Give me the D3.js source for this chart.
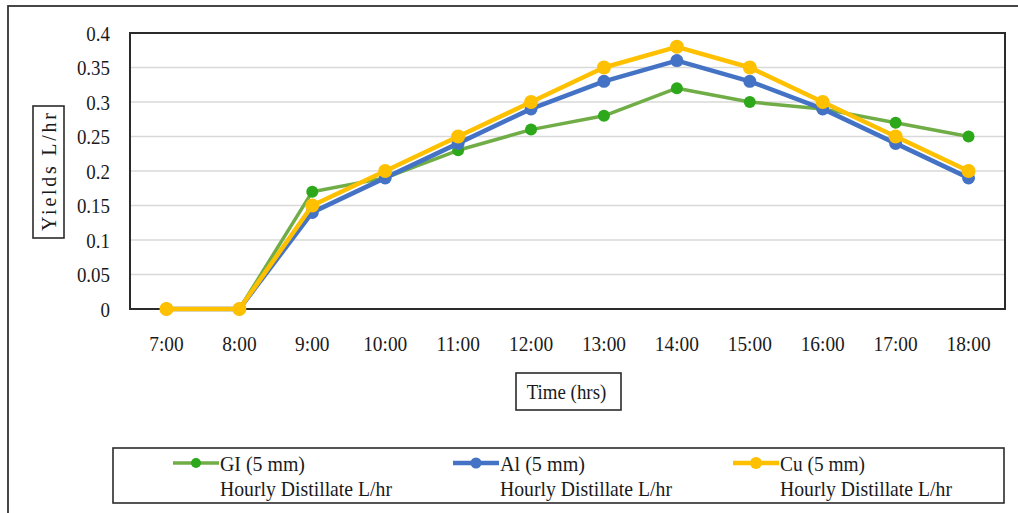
<!DOCTYPE html>
<html>
<head>
<meta charset="utf-8">
<script src="https://cdn.jsdelivr.net/npm/d3@7"></script>
<style>
  html, body { margin: 0; padding: 0; background: #fff; }
  svg { display: block; }
  text { font-family: "Liberation Serif", "Times New Roman", serif; fill: #1a1a1a; }
</style>
</head>
<body>
<svg id="chart" width="1018" height="513"></svg>
<script>
// Hourly distillate yield (L/hr) per absorber material
const hours = ["7:00", "8:00", "9:00", "10:00", "11:00", "12:00", "13:00", "14:00", "15:00", "16:00", "17:00", "18:00"];
const giYield = [0, 0, 0.17, 0.19, 0.23, 0.26, 0.28, 0.32, 0.30, 0.29, 0.27, 0.25];
const alYield = [0, 0, 0.14, 0.19, 0.24, 0.29, 0.33, 0.36, 0.33, 0.29, 0.24, 0.19];
const cuYield = [0, 0, 0.15, 0.20, 0.25, 0.30, 0.35, 0.38, 0.35, 0.30, 0.25, 0.20];
const yTicks = [0, 0.05, 0.1, 0.15, 0.2, 0.25, 0.3, 0.35, 0.4];
const seriesNames = ["GI (5 mm)", "Al (5 mm)", "Cu (5 mm)"];
const seriesSub = "Hourly Distillate  L/hr";

const series = [
  { name: seriesNames[0], values: giYield, line: "#70ad47", dot: "#2ca81a", width: 3.5, r: 6 },
  { name: seriesNames[1], values: alYield, line: "#4472c4", dot: "#4472c4", width: 4.5, r: 6.5 },
  { name: seriesNames[2], values: cuYield, line: "#ffc000", dot: "#ffc000", width: 4.5, r: 7 }
];

const svg = d3.select("#chart");
const plot = { left: 130, top: 33, right: 1005, bottom: 309 };

// squeeze text horizontally, like a condensed serif face
function condense(sel, k) {
  sel.each(function () {
    const w = this.getComputedTextLength();
    d3.select(this).attr("textLength", w * k).attr("lengthAdjust", "spacingAndGlyphs");
  });
}

// outer chart frame (runs past the right and bottom edges)
svg.append("rect")
  .attr("x", 8).attr("y", 6).attr("width", 1030).attr("height", 530)
  .attr("fill", "none").attr("stroke", "#333").attr("stroke-width", 1.8);

const x = d3.scaleBand().domain(hours).range([plot.left, plot.right]);
const y = d3.scaleLinear().domain([0, 0.4]).range([plot.bottom, plot.top]);

// horizontal gridlines
svg.append("g")
  .selectAll("line")
  .data(yTicks.filter(d => d > 0 && d < 0.4))
  .join("line")
  .attr("x1", plot.left).attr("x2", plot.right)
  .attr("y1", d => y(d)).attr("y2", d => y(d))
  .attr("stroke", "#d9d9d9").attr("stroke-width", 1.5);

// y axis tick labels
const yAxis = d3.axisLeft(y).tickValues(yTicks).tickSize(0).tickPadding(20)
  .tickFormat(d => d3.format("")(+d.toFixed(2)));
const gy = svg.append("g").attr("transform", `translate(${plot.left},0)`).call(yAxis);
gy.select(".domain").remove();
gy.selectAll("text").style("font-size", "22px").style("font-family", "Liberation Serif, serif")
  .attr("fill", "#1a1a1a").attr("dy", "0.33em").call(condense, 0.86);

// x axis tick labels
const xAxis = d3.axisBottom(x).tickSize(0).tickPadding(26);
const gx = svg.append("g").attr("transform", `translate(0,${plot.bottom})`).call(xAxis);
gx.select(".domain").remove();
gx.selectAll("text").style("font-size", "22px").style("font-family", "Liberation Serif, serif")
  .attr("fill", "#1a1a1a").call(condense, 0.88);

// plot area border
svg.append("rect")
  .attr("x", plot.left).attr("y", plot.top)
  .attr("width", plot.right - plot.left).attr("height", plot.bottom - plot.top)
  .attr("fill", "none").attr("stroke", "#2b2b2b").attr("stroke-width", 2);

// lines and markers
const line = d3.line()
  .x((d, i) => x(hours[i]) + x.bandwidth() / 2)
  .y(d => y(d));

series.forEach(s => {
  const g = svg.append("g");
  g.append("path")
    .attr("d", line(s.values))
    .attr("fill", "none").attr("stroke", s.line)
    .attr("stroke-width", s.width).attr("stroke-linejoin", "round");
  g.selectAll("circle")
    .data(s.values)
    .join("circle")
    .attr("cx", (d, i) => x(hours[i]) + x.bandwidth() / 2)
    .attr("cy", d => y(d))
    .attr("r", s.r)
    .attr("fill", s.dot);
});

// y axis title in a box
svg.append("rect")
  .attr("x", 33).attr("y", 106).attr("width", 31).attr("height", 132)
  .attr("fill", "#fff").attr("stroke", "#2b2b2b").attr("stroke-width", 1.6);
svg.append("text")
  .attr("transform", "translate(56,172) rotate(-90)")
  .attr("text-anchor", "middle")
  .style("font-size", "20px")
  .attr("textLength", 118).attr("lengthAdjust", "spacing")
  .text("Yields L/hr");

// x axis title in a box
svg.append("rect")
  .attr("x", 516).attr("y", 373).attr("width", 105).attr("height", 37)
  .attr("fill", "#fff").attr("stroke", "#2b2b2b").attr("stroke-width", 1.6);
svg.append("text")
  .attr("x", 566.5).attr("y", 399)
  .attr("text-anchor", "middle")
  .style("font-size", "21px")
  .text("Time (hrs)")
  .call(condense, 0.9);

// legend
svg.append("rect")
  .attr("x", 113).attr("y", 448).attr("width", 891).attr("height", 55)
  .attr("fill", "#fff").attr("stroke", "#2b2b2b").attr("stroke-width", 1.6);

const legendX = [173, 453, 733];
series.forEach((s, i) => {
  const g = svg.append("g").attr("transform", `translate(${legendX[i]},463)`);
  g.append("line").attr("x1", 0).attr("x2", 46).attr("y1", 0).attr("y2", 0)
    .attr("stroke", s.line).attr("stroke-width", s.width);
  g.append("circle").attr("cx", 23).attr("cy", 0).attr("r", s.r - 1).attr("fill", s.dot);
  g.append("text").attr("x", 47).attr("y", 8).style("font-size", "21px").text(s.name)
    .attr("textLength", 85).attr("lengthAdjust", "spacingAndGlyphs");
  g.append("text").attr("x", 47).attr("y", 33).style("font-size", "21px").text(seriesSub)
    .attr("textLength", 172).attr("lengthAdjust", "spacingAndGlyphs");
});
</script>
</body>
</html>
